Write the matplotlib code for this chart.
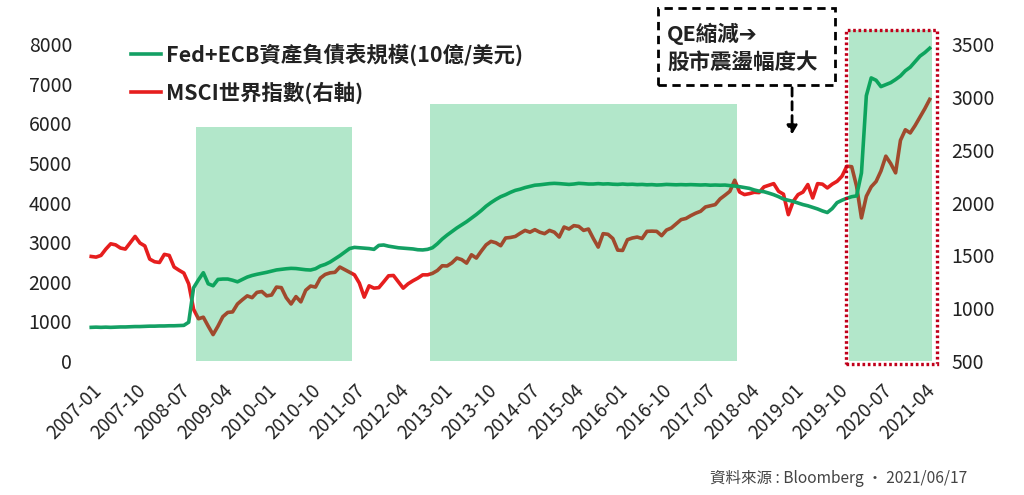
import pandas as pd
import matplotlib.pyplot as plt
import matplotlib.transforms as mtransforms
from matplotlib.patches import Rectangle, FancyArrowPatch

plt.rcParams['font.family'] = ['Noto Sans CJK TC', 'DejaVu Sans']

# monthly data 2007-01 .. 2021-05
months = pd.date_range('2007-01-01', '2021-05-01', freq='MS').strftime('%Y-%m').tolist()

fed_ecb = [850, 855, 850, 855, 850, 855, 860, 860, 865, 870, 870, 875,
           880, 880, 885, 885, 890, 890, 895, 900, 980, 1850, 2050, 2230,
           1950, 1900, 2060, 2070, 2070, 2040, 2000, 2060, 2120, 2160, 2190, 2215,
           2240, 2270, 2300, 2316, 2330, 2340, 2335, 2320, 2305, 2298, 2330, 2399,
           2440, 2500, 2580, 2660, 2750, 2840, 2870, 2860, 2850, 2840, 2820, 2920,
           2930, 2900, 2880, 2860, 2850, 2840, 2830, 2810, 2805, 2820, 2860, 2960,
           3080, 3180, 3270, 3360, 3440, 3518, 3610, 3700, 3800, 3910, 4000, 4080,
           4150, 4200, 4260, 4310, 4340, 4380, 4410, 4440, 4450, 4465, 4480, 4487,
           4480, 4470, 4460, 4470, 4487, 4480, 4470, 4470, 4480, 4470, 4475, 4465,
           4460, 4470, 4460, 4465, 4455, 4460, 4450, 4455, 4445, 4450, 4460, 4455,
           4450, 4455, 4450, 4455, 4450, 4445, 4450, 4440, 4445, 4440, 4444, 4430,
           4420, 4402, 4380, 4360, 4320, 4290, 4276, 4240, 4200, 4150, 4090, 4060,
           4030, 3990, 3950, 3920, 3880, 3840, 3790, 3750, 3850, 4000, 4060, 4110,
           4150, 4170, 4750, 6700, 7150, 7090, 6930, 6980, 7030, 7110, 7200, 7330,
           7420, 7560, 7700, 7790, 7900]

msci = [1490, 1484, 1500, 1560, 1610, 1600, 1570, 1560, 1620, 1680, 1617, 1590,
        1465, 1440, 1433, 1510, 1500, 1390, 1360, 1333, 1230, 990, 900, 915,
        830, 750, 830, 920, 960, 965, 1040, 1080, 1117, 1100, 1150, 1158,
        1117, 1125, 1200, 1195, 1100, 1040, 1110, 1060, 1170, 1210, 1200, 1285,
        1320, 1335, 1340, 1390, 1365, 1340, 1316, 1238, 1105, 1212, 1190, 1195,
        1250, 1307, 1310, 1250, 1190, 1231, 1260, 1285, 1316, 1316, 1330, 1357,
        1402, 1400, 1430, 1475, 1460, 1427, 1506, 1475, 1540, 1600, 1633, 1620,
        1592, 1665, 1670, 1680, 1710, 1737, 1720, 1744, 1720, 1706, 1737, 1720,
        1674, 1769, 1750, 1782, 1775, 1737, 1750, 1660, 1579, 1706, 1700, 1660,
        1550, 1547, 1649, 1665, 1674, 1660, 1728, 1730, 1728, 1687, 1740, 1760,
        1800, 1839, 1850, 1877, 1900, 1918, 1959, 1970, 1981, 2035, 2070, 2107,
        2212, 2100, 2076, 2085, 2098, 2095, 2149, 2165, 2180, 2107, 2080, 1886,
        2012, 2076, 2100, 2171, 2044, 2180, 2175, 2139, 2175, 2202, 2250, 2345,
        2340, 2155, 1855, 2060, 2150, 2200, 2300, 2440, 2370, 2282, 2590, 2690,
        2660, 2730, 2810, 2890, 2978]

# QE periods (start month, end month, shade height on left axis)
qe_periods = [('2008-11', '2011-06', 5900),
              ('2012-11', '2018-01', 6500),
              ('2020-01', '2021-05', 8350)]

green = '#14A064'
red = '#E61E1E'
txt = '#222222'

x = list(range(len(months)))
fig = plt.figure(figsize=(10.24, 4.95), dpi=100)
ax = fig.add_axes([0.0867, 0.2707, 0.8236, 0.6719])
ax2 = ax.twinx()
ax.set_zorder(ax2.get_zorder() + 1)
ax.patch.set_visible(False)

ax2.plot(x, msci, color=red, lw=2.6, solid_joinstyle='round')
g_line, = ax.plot(x, fed_ecb, color=green, lw=2.6, solid_joinstyle='round',
                  label='Fed+ECB資產負債表規模(10億/美元)')
r_line, = ax.plot([], [], color=red, lw=2.6, label='MSCI世界指數(右軸)')

# shading drawn above both lines
for start, end, h in qe_periods:
    i0, i1 = months.index(start), months.index(end)
    ax.bar(range(i0, i1 + 1), [h] * (i1 - i0 + 1), width=1.0, color='#00B050',
           alpha=0.3, lw=0, zorder=5)

# red dotted box around latest period
ax.add_patch(Rectangle((154.8, -80), 18.6, 8440, fill=False, ec='#C0001A',
                       lw=2.4, ls=(0, (0.8, 0.8)), zorder=6, clip_on=False))

ax.set_xlim(-0.5, len(months) - 0.5)
ax.set_ylim(0, 8400)
ax2.set_ylim(500, 3650)
ax.set_yticks(range(0, 8001, 1000))
ax2.set_yticks(range(500, 3501, 500))
ax.set_xticks(x[::9])
ax.set_xticklabels(months[::9], rotation=45, ha='right', rotation_mode='anchor')
shift = mtransforms.ScaledTranslation(0.06, 0, fig.dpi_scale_trans)
for lab in ax.get_xticklabels():
    lab.set_transform(lab.get_transform() + shift)

for a in (ax, ax2):
    for s in a.spines.values():
        s.set_visible(False)
ax.tick_params(axis='y', length=0, pad=12, labelsize=14, colors=txt)
ax2.tick_params(axis='y', length=0, pad=14, labelsize=14, colors=txt)
ax.tick_params(axis='x', length=0, pad=14, labelsize=13.5, colors=txt)
ax2.tick_params(axis='x', length=0)

leg = ax.legend(handles=[g_line, r_line], loc='upper left', bbox_to_anchor=(0.109, 0.952),
                bbox_transform=fig.transFigure, frameon=False, handlelength=1.4,
                handletextpad=0.25, labelspacing=0.72,
                prop={'size': 15.4, 'weight': 'bold'})
for t in leg.get_texts():
    t.set_color(txt)

# annotation box with dashed arrow
fig.patches.append(Rectangle((0.6426, 0.8283), 0.1728, 0.1555, transform=fig.transFigure,
                             fill=False, ec='black', lw=2.0, ls=(0, (3, 2))))
fig.text(0.6514, 0.9313, 'QE縮減➔', fontsize=15.5, fontweight='bold', color=txt,
         va='center', ha='left')
fig.text(0.6514, 0.8747, '股市震盪幅度大', fontsize=15.5, fontweight='bold', color=txt,
         va='center', ha='left')
fig.patches.append(FancyArrowPatch((0.7735, 0.8283), (0.7735, 0.7232), transform=fig.transFigure,
                                   arrowstyle='-|>,head_length=5,head_width=3',
                                   color='black', lw=2.0, ls=(0, (3, 2))))

fig.text(0.945, 0.034, '資料來源 : Bloomberg · 2021/06/17', fontsize=11.2,
         color='#444444', ha='right', va='center')

fig.savefig('out.png', dpi=100)
